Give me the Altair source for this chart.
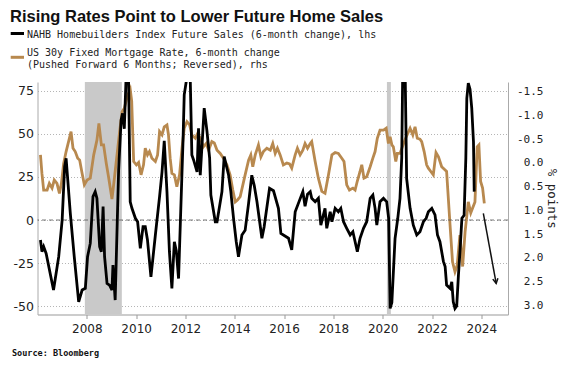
import altair as alt
import pandas as pd

# ---------------- data ----------------
black_year = [2006.12, 2006.18, 2006.25, 2006.35, 2006.65, 2006.86, 2007.0, 2007.10, 2007.16, 2007.33,
              2007.49, 2007.67, 2007.81, 2007.94, 2008.03, 2008.14, 2008.25, 2008.34, 2008.41, 2008.52,
              2008.59, 2008.66, 2008.72, 2008.82, 2008.92, 2009.02, 2009.06, 2009.15, 2009.29, 2009.39,
              2009.45, 2009.52, 2009.59, 2009.69, 2009.76, 2009.83, 2009.97, 2010.06, 2010.17, 2010.28,
              2010.37, 2010.46, 2010.60, 2010.78, 2010.95, 2011.05, 2011.14, 2011.25, 2011.35, 2011.45,
              2011.55, 2011.63, 2011.72, 2011.90, 2011.95, 2012.08, 2012.19, 2012.26, 2012.33, 2012.47,
              2012.53, 2012.60, 2012.76, 2012.87, 2012.98, 2013.03, 2013.21, 2013.28, 2013.48, 2013.57,
              2013.75, 2013.84, 2013.95, 2014.06, 2014.15, 2014.29, 2014.42, 2014.56, 2014.69, 2014.79,
              2014.90, 2015.10, 2015.19, 2015.41, 2015.57, 2015.77, 2015.87, 2016.18, 2016.31, 2016.45,
              2016.76, 2016.85, 2016.95, 2017.06, 2017.12, 2017.26, 2017.39, 2017.49, 2017.66, 2017.73,
              2017.87, 2017.94, 2018.07, 2018.20, 2018.30, 2018.41, 2018.54, 2018.68, 2018.79, 2018.88,
              2018.97, 2019.08, 2019.22, 2019.35, 2019.49, 2019.60, 2019.69, 2019.76, 2019.89, 2020.03,
              2020.16, 2020.24, 2020.30, 2020.37, 2020.50, 2020.61, 2020.70, 2020.77, 2020.81, 2020.91,
              2020.97, 2021.11, 2021.24, 2021.38, 2021.51, 2021.65, 2021.76, 2021.85, 2021.99, 2022.12,
              2022.22, 2022.32, 2022.46, 2022.53, 2022.59, 2022.73, 2022.80, 2022.86, 2022.93, 2023.0,
              2023.07, 2023.14, 2023.21, 2023.30, 2023.37, 2023.41, 2023.47, 2023.54, 2023.61, 2023.68,
              2023.71]
black_val = [-11.6, -18.4, -15.5, -19.4, -40.7, -21.3, 0, 31, 35.9, 4,
             -21.3, -47.5, -40.7, -39.7, -21.3, -13.6, 13.6, 16.5, 12.6, -15.5,
             -18.4, 7.8, -21.3, -36.8, -37.8, -40.7, -26.2, -46.5, 29, 58,
             62, 53, 82, 85, 10.6, 6.8, 1, -1, -16.5, -3.9,
             -3.9, -11.6, -33, -8.7, 13.6, 28, 46, 16.5, -18.4, -39.7,
             -12.6, -18, -34, 45.5, 72.7, 85, 85, 37.8, 34.9, 28,
             53.3, 26, 65, 52, 36, 14.5, -1, -1, 16.5, 36.8,
             26, 16.5, 1, -12.6, -21.3, -8.7, -6, 9.7, 26, 20,
             10.6, -10.6, -4, 18.4, 17, 6.8, -7.8, -10.6, -17.4, 4.8,
             16.5, 8, 15, 16.5, 12.6, 10.6, 12.6, -3, 6.8, -4.8,
             4.8, -1, 6.8, 4.8, 6.8, -1, -4.8, -8.7, -6.8, -12.6,
             -18.4, -10.6, -4.8, -1, 12.6, 14.5, 6.8, -3, 10.6, 12.6,
             10.6, 1, -51.4, -48, -10.6, 1, 12.6, 36, 85, 85,
             24, 6.8, -3, -8.7, -6.8, -1, 1, 4.8, 6.8, 3,
             -8.7, -12.6, -24, -27, -37.8, -39.7, -36, -47.5, -51.4, -50,
             -32, -16.5, 1, 2.8, 36, 70.7, 79.5, 76, 65, 45.5,
             16.5]

gold_year = [2006.12, 2006.18, 2006.25, 2006.39, 2006.48, 2006.59, 2006.68, 2006.79, 2006.89, 2006.97,
             2007.06, 2007.16, 2007.26, 2007.36, 2007.44, 2007.53, 2007.63, 2007.71, 2007.81, 2007.90,
             2008.01, 2008.14, 2008.28, 2008.41, 2008.49, 2008.59, 2008.68, 2008.79, 2008.88, 2009.02,
             2009.13, 2009.33, 2009.43, 2009.52, 2009.64, 2009.76, 2009.82, 2009.90, 2010.01, 2010.10,
             2010.20, 2010.30, 2010.37, 2010.46, 2010.54, 2010.64, 2010.78, 2010.87, 2010.95, 2011.05,
             2011.14, 2011.25, 2011.31, 2011.38, 2011.45, 2011.55, 2011.65, 2011.76, 2011.86, 2011.95,
             2012.06, 2012.17, 2012.26, 2012.40, 2012.49, 2012.60, 2012.73, 2012.84, 2012.94, 2013.07,
             2013.17, 2013.28, 2013.41, 2013.54, 2013.68, 2013.81, 2013.92, 2014.02, 2014.11, 2014.22,
             2014.42, 2014.56, 2014.65, 2014.73, 2014.83, 2014.96, 2015.06, 2015.16, 2015.30, 2015.44,
             2015.54, 2015.64, 2015.73, 2015.84, 2015.97, 2016.11, 2016.22, 2016.31, 2016.45, 2016.54,
             2016.65, 2016.76, 2016.85, 2016.95, 2017.06, 2017.12, 2017.26, 2017.39, 2017.53, 2017.66,
             2017.80, 2017.94, 2018.07, 2018.20, 2018.34, 2018.43, 2018.54, 2018.65, 2018.79, 2018.88,
             2018.97, 2019.08, 2019.15, 2019.24, 2019.35, 2019.49, 2019.60, 2019.69, 2019.78, 2019.89,
             2020.03, 2020.14, 2020.23, 2020.30, 2020.37, 2020.43, 2020.53, 2020.59, 2020.70, 2020.91,
             2021.11, 2021.22, 2021.31, 2021.40, 2021.51, 2021.58, 2021.68, 2021.78, 2021.85, 2021.95,
             2022.05, 2022.16, 2022.26, 2022.39, 2022.53, 2022.59, 2022.73, 2022.83, 2022.93, 2023.02,
             2023.13, 2023.24, 2023.34, 2023.47, 2023.57, 2023.74, 2023.83, 2023.90, 2023.97, 2024.05,
             2024.12]
gold_val = [-0.17, 0.22, 0.57, 0.57, 0.43, 0.53, 0.36, 0.43, 0.64, 0.43,
            0.01, -0.24, -0.45, -0.66, -0.31, -0.24, -0.10, -0.06, 0.22, 0.46,
            0.36, 0.32, -0.17, -0.48, -0.83, -0.38, -0.38, 0.01, 0.29, 0.76,
            0.27, -0.66, -1.08, -1.15, -1.40, -1.55, -1.30, -0.03, 0.04, -0.01,
            0.25, 0.04, -0.31, -0.17, -0.24, -0.10, -0.03, -0.17, -0.66, -0.59,
            -0.76, -0.80, -0.60, -0.10, 0.22, 0.25, 0.50, 0.25, -0.31, -0.73,
            -0.87, -0.80, -0.59, -0.52, -0.62, -0.52, -0.34, -0.41, -0.27, -0.45,
            -0.42, -0.27, -0.20, -0.10, 0.04, 0.25, 0.57, 0.82, 0.78, 0.71,
            0.25, -0.06, -0.17, 0.08, -0.17, -0.38, -0.13, -0.24, -0.31, -0.27,
            -0.41, -0.20, -0.31, -0.17, 0.04, 0.00, 0.02, 0.11, -0.17, -0.31,
            -0.17, -0.27, -0.41, -0.31, -0.41, -0.45, -0.03, 0.32, 0.60, 0.64,
            0.25, -0.17, -0.22, -0.20, -0.10, -0.03, 0.46, 0.57, 0.53, 0.57,
            0.38, 0.18, 0.04, 0.32, 0.29, 0.08, -0.10, -0.24, -0.52, -0.69,
            -0.69, -0.73, -0.41, -0.55, -0.38, -0.34, -0.03, -0.20, -0.20, -0.50,
            -0.73, -0.59, -0.76, -0.52, -0.50, -0.45, -0.24, 0.04, 0.11, 0.18,
            0.25, -0.22, -0.13, 0.08, 0.15, 0.18, 1.31, 2.08, 2.29, 2.15,
            1.52, 2.18, 1.45, 0.82, 1.05, 0.82, -0.34, -0.38, 0.39, 0.53,
            0.85]

recession_start = [2007.92, 2020.17]
recession_end = [2009.42, 2020.33]

arrow_year = [2024.08, 2024.60]
arrow_val = [3.9, -36.8]

x_ticks = [2008, 2010, 2012, 2014, 2016, 2018, 2020, 2022, 2024]
left_ticks = [-50, -25, 0, 25, 50, 75]
right_ticks = [-1.5, -1.0, -0.5, 0.0, 0.5, 1.0, 1.5, 2.0, 2.5, 3.0]

title_text = "Rising Rates Point to Lower Future Home Sales"
legend_black = "NAHB Homebuilders Index Future Sales (6-month change), lhs"
legend_gold_1 = "US 30y Fixed Mortgage Rate, 6-month change"
legend_gold_2 = "(Pushed Forward 6 Months; Reversed), rhs"
source_text = "Source: Bloomberg"
right_title = "% points"

# ---------------- layout ----------------
W, H = 470.5, 232.5
X_DOM = [2006.0, 2025.08]
L_DOM = [-54.9, 80.2]
R_DOM = [-1.704, 3.19]
BLACK = "#000000"
GOLD = "#B8894F"
LABEL_FONT = "DejaVu Sans"
MONO = "DejaVu Sans Mono"

black_df = pd.DataFrame({"year": black_year, "v": black_val})
gold_df = pd.DataFrame({"year": gold_year, "r": gold_val})
rec_df = pd.DataFrame({"year": recession_start, "e": recession_end})
arrow_df = pd.DataFrame({"year": arrow_year, "v": arrow_val})
zero_df = pd.DataFrame({"v": [0]})

xscale = alt.Scale(domain=X_DOM, nice=False, zero=False)
lscale = alt.Scale(domain=L_DOM, nice=False, zero=False)
rscale = alt.Scale(domain=R_DOM, nice=False, zero=False, reverse=True)

xaxis = alt.Axis(values=x_ticks, format="d", title=None, grid=False, tickSize=4,
                 tickColor="#999", domainColor="#999", labelFont=LABEL_FONT,
                 labelFontSize=12, labelColor="#222", labelPadding=5, labelFlush=False)
laxis = alt.Axis(values=left_ticks, title=None, grid=True, gridDash=[1, 2],
                 gridColor="#b5b5b5", ticks=False, labelPadding=4, domainColor="#aaa",
                 labelFont=LABEL_FONT, labelFontSize=12.5, labelColor="#222",
                 labelExpr="replace(format(datum.value, 'd'), '\u2212', '-')")
raxis = alt.Axis(orient="right", values=right_ticks, grid=False, ticks=False,
                 domainColor="#aaa", labelAlign="right", labelPadding=35,
                 labelFont=MONO, labelFontSize=11, labelColor="#222",
                 labelExpr="replace(format(datum.value, '.1f'), '\u2212', '-')",
                 title=right_title, titleAngle=90, titleX=43, titleY=H / 2,
                 titleAlign="center", titleBaseline="middle", titleFont=MONO,
                 titleFontSize=12.5, titleFontWeight="normal", titleColor="#222")

X = alt.X("year:Q", scale=xscale, axis=xaxis)
YL = alt.Y("v:Q", scale=lscale, axis=laxis)

shade = alt.Chart(rec_df).mark_rect(color="#c9c9c9").encode(
    x=X, x2="e:Q", y=alt.value(0), y2=alt.value(H))

gold = alt.Chart(gold_df).mark_line(color=GOLD, strokeWidth=2.8, clip=True).encode(
    x=X, y=alt.Y("r:Q", scale=rscale, axis=raxis))

zero = alt.Chart(zero_df).mark_rule(color="#555", strokeDash=[4, 3], strokeWidth=0.8).encode(
    y=YL)

black = alt.Chart(black_df).mark_line(color=BLACK, strokeWidth=2.8, clip=True).encode(
    x=X, y=YL)

arrow_line = alt.Chart(arrow_df).mark_line(color="#111", strokeWidth=1.5).encode(x=X, y=YL)

arrow_head = alt.Chart(arrow_df.tail(1)).mark_point(
    shape="M-0.55,-1L0,0L0.55,-1", filled=False, color="#111", strokeWidth=1.5,
    size=90, angle=350, opacity=1).encode(x=X, y=YL)

one = alt.Data(values=[{}])


def label(text, x, y, font, size, weight="normal", color="#222", baseline="alphabetic"):
    return alt.Chart(one).mark_text(text=text, align="left", baseline=baseline,
                                    font=font, fontSize=size, fontWeight=weight,
                                    color=color).encode(x=alt.value(x), y=alt.value(y))


def swatch(x1, x2, y, color):
    return alt.Chart(one).mark_rule(color=color, strokeWidth=3).encode(
        x=alt.value(x1), x2=alt.value(x2), y=alt.value(y))


texts = [
    label(title_text, -27.5, -73, "Liberation Sans", 16.5, "bold", "#111", "top"),
    label(legend_black, -10.5, -44.5, MONO, 10),
    label(legend_gold_1, -10.5, -26.0, MONO, 10),
    label(legend_gold_2, -10.5, -14.0, MONO, 10),
    label(source_text, -25.5, 274, MONO, 8.5, "bold", "#111"),
    swatch(-26.8, -13.5, -48.5, BLACK),
    swatch(-26.8, -13.5, -24.7, GOLD),
]

inner = alt.layer(zero, black, arrow_line, arrow_head, *texts)

chart = alt.layer(shade, gold, inner).resolve_scale(y="independent").properties(
    width=W, height=H,
    autosize=alt.AutoSizeParams(type="none"),
    padding={"left": 29.5, "top": 74, "right": 56, "bottom": 44},
).configure_view(stroke=None)

chart.save("out.html", embed_options={"renderer": "svg", "actions": False})
